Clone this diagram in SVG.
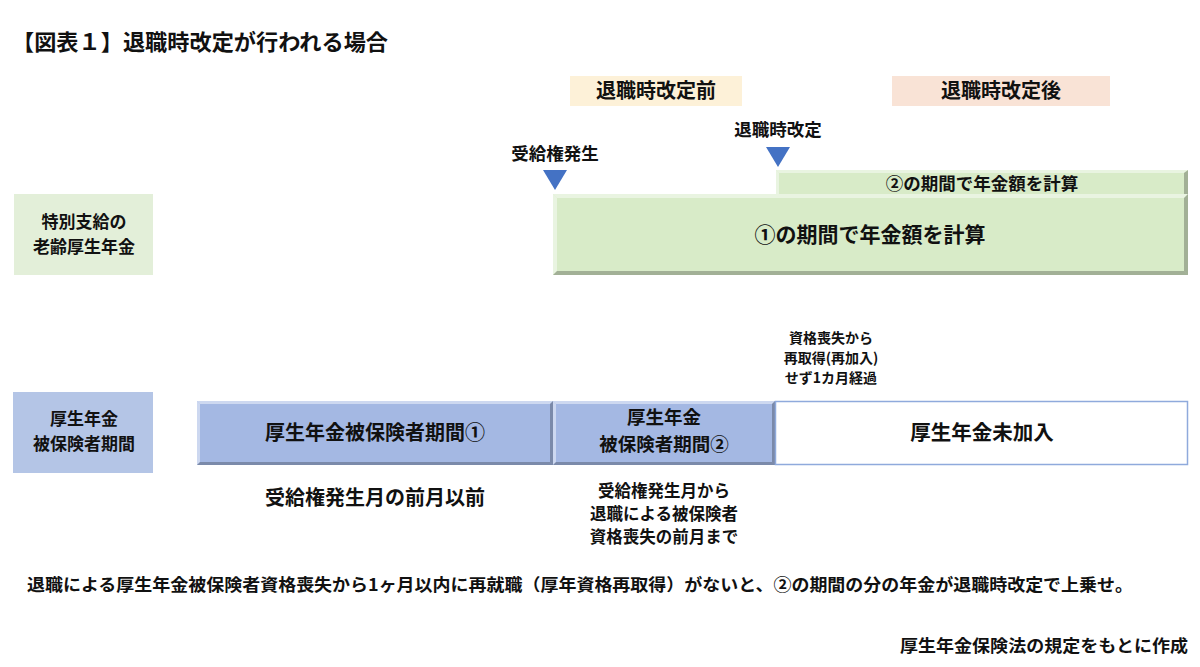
<svg xmlns="http://www.w3.org/2000/svg" width="1200" height="667" viewBox="0 0 1200 667">
<style>
text{font-family:"Noto Sans CJK JP","Noto Sans",sans-serif;font-weight:bold;fill:#111;}
.c{text-anchor:middle;}
.tri{fill:#4472c4;}
.hl{fill:#ffffff;opacity:0.45;}
.sh{fill:#000000;opacity:0.25;}
</style>
<rect width="1200" height="667" fill="#ffffff"/>
<text x="12" y="50" font-size="22" textLength="376" lengthAdjust="spacingAndGlyphs">【図表１】退職時改定が行われる場合</text>

<g id="phase-before">
<rect x="570" y="76" width="172" height="30" fill="#fdf1d8"/>
<text class="c" x="656" y="98" font-size="20">退職時改定前</text>
</g>
<g id="phase-after">
<rect x="892" y="76" width="218" height="30" fill="#f9e3d6"/>
<text class="c" x="1001" y="98" font-size="20">退職時改定後</text>
</g>

<g id="marker-kaitei">
<text class="c" x="778" y="136" font-size="17.5">退職時改定</text>
<polygon class="tri" points="766,147 790,147 778,167"/>
</g>
<g id="marker-jukyu">
<text class="c" x="555" y="160" font-size="17.5">受給権発生</text>
<polygon class="tri" points="543,170 567,170 555,190"/>
</g>

<g id="label-tokubetsu">
<rect x="14" y="194" width="139" height="81" fill="#e3efd9"/>
<text class="c" x="84" y="228" font-size="17">特別支給の</text>
<text class="c" x="84" y="253" font-size="17">老齢厚生年金</text>
</g>

<g id="bar-calc2">
<rect x="776" y="170" width="412" height="24" fill="#d8ebc8"/>
<polygon class="hl" points="776,170 1188,170 1184,173 779,173"/>
<polygon class="hl" points="776,170 779,173 779,194 776,194"/>
<polygon class="sh" points="1188,170 1188,194 1184,194 1184,173"/>
<text class="c" x="982" y="190" font-size="17.5">②の期間で年金額を計算</text>
</g>

<g id="bar-calc1">
<rect x="553" y="194" width="635" height="81" fill="#d8ebc8"/>
<polygon class="hl" points="553,194 1188,194 1184,198 557,198"/>
<polygon class="hl" points="553,194 557,198 557,271 553,275"/>
<polygon class="sh" points="1188,194 1188,275 1184,271 1184,198"/>
<polygon class="sh" points="553,275 1188,275 1184,271 557,271"/>
<text class="c" x="870" y="242" font-size="21">①の期間で年金額を計算</text>
</g>

<g id="label-hihoken">
<rect x="13" y="392" width="140" height="81" fill="#b4c5e6"/>
<text class="c" x="84" y="425" font-size="17">厚生年金</text>
<text class="c" x="84" y="450" font-size="17">被保険者期間</text>
</g>

<g id="note-soshitsu">
<text class="c" x="831" y="343" font-size="14">資格喪失から</text>
<text class="c" x="831" y="363" font-size="14">再取得(再加入)</text>
<text class="c" x="831" y="383" font-size="14">せず1カ月経過</text>
</g>

<g id="bar-period1">
<rect x="197" y="401" width="356" height="64" fill="#a4b8e3"/>
<polygon class="hl" points="197,401 553,401 550,404 200,404"/>
<polygon class="hl" points="197,401 200,404 200,462 197,465"/>
<polygon class="sh" points="553,401 553,465 550,462 550,404"/>
<polygon class="sh" points="197,465 553,465 550,462 200,462"/>
<text class="c" x="375" y="440" font-size="20">厚生年金被保険者期間①</text>
</g>

<g id="bar-period2">
<rect x="553" y="401" width="222" height="64" fill="#a4b8e3"/>
<polygon class="hl" points="553,401 775,401 772,404 556,404"/>
<polygon class="hl" points="553,401 556,404 556,462 553,465"/>
<polygon class="sh" points="775,401 775,465 772,462 772,404"/>
<polygon class="sh" points="553,465 775,465 772,462 556,462"/>
<text class="c" x="664" y="424" font-size="18.5">厚生年金</text>
<text class="c" x="664" y="451" font-size="18.5">被保険者期間②</text>
</g>

<g id="bar-mikanyu">
<rect x="775.5" y="401.5" width="412" height="63" fill="#ffffff" stroke="#8faadc" stroke-width="1.5"/>
<text class="c" x="982" y="440" font-size="20.5">厚生年金未加入</text>
</g>

<g id="desc-period1">
<text class="c" x="375" y="505" font-size="20">受給権発生月の前月以前</text>
</g>
<g id="desc-period2">
<text class="c" x="664" y="497" font-size="16.5">受給権発生月から</text>
<text class="c" x="664" y="520" font-size="16.5">退職による被保険者</text>
<text class="c" x="664" y="543" font-size="16.5">資格喪失の前月まで</text>
</g>

<text x="27" y="591" font-size="17" textLength="1106" lengthAdjust="spacingAndGlyphs">退職による厚生年金被保険者資格喪失から1ヶ月以内に再就職（厚年資格再取得）がないと、②の期間の分の年金が退職時改定で上乗せ。</text>
<text x="900" y="652" font-size="16.5" textLength="288" lengthAdjust="spacingAndGlyphs">厚生年金保険法の規定をもとに作成</text>
</svg>
